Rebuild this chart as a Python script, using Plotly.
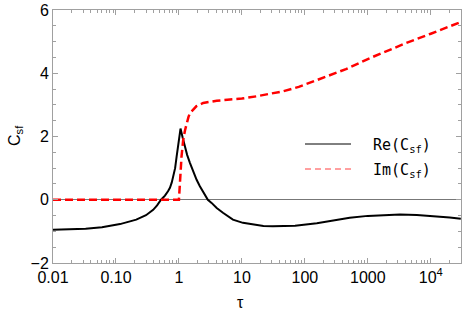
import plotly.graph_objects as go

# Real part of C_sf
tau_re = [0.01, 0.02, 0.033, 0.06, 0.116, 0.21, 0.3, 0.39, 0.45, 0.52, 0.6, 0.67, 0.72, 0.77, 0.81,
          0.87, 0.92, 0.96, 1.0, 1.03, 1.06, 1.15, 1.24, 1.35, 1.5, 1.7, 1.91, 2.15, 2.43, 2.88, 3.3,
          3.98, 5.0, 6.0, 7.2, 10.4, 15, 22, 31, 45, 70, 155, 300, 515, 1000, 2000, 3240, 6000,
          10700, 20000, 30000]
re_vals = [-0.95, -0.94, -0.92, -0.87, -0.77, -0.63, -0.49, -0.32, -0.18, 0.0, 0.13, 0.27, 0.38, 0.55, 0.74,
           1.0, 1.37, 1.65, 1.95, 2.15, 2.25, 1.95, 1.68, 1.42, 1.16, 0.88, 0.63, 0.43, 0.26, 0.0, -0.1,
           -0.26, -0.41, -0.53, -0.63, -0.73, -0.79, -0.83, -0.84, -0.84, -0.82, -0.74, -0.65, -0.57, -0.51, -0.48, -0.47, -0.48,
           -0.51, -0.56, -0.60]

# Imaginary part of C_sf
tau_im = [0.01, 0.1, 0.5, 1.0, 1.1, 1.17, 1.25, 1.32, 1.42, 1.5, 1.69, 1.9, 2.43, 3.2, 3.98, 6.5, 10,
          17, 30, 45, 80, 135, 250, 450, 1000, 2000, 4000, 10000, 30000]
im_vals = [0.0, 0.0, 0.0, 0.0, 1.37, 1.9, 2.2, 2.43, 2.62, 2.74, 2.87, 2.96, 3.06, 3.11, 3.13, 3.17, 3.2,
           3.27, 3.35, 3.43, 3.57, 3.74, 3.93, 4.13, 4.45, 4.7, 4.95, 5.25, 5.62]

x_tickvals = [0.01, 0.1, 1, 10, 100, 1000, 10000]
x_ticktext = ["0.01", "0.10", "1", "10", "100", "1000", "10<sup>4</sup>"]
y_tickvals = [-2, 0, 2, 4, 6]

legend_names = ["Re(C<sub>sf</sub>)", "Im(C<sub>sf</sub>)"]

minor_x = [m * 10 ** e for e in range(-2, 5) for m in range(2, 10)]

fig = go.Figure()
fig.add_trace(go.Scatter(x=tau_re, y=re_vals, mode="lines", showlegend=False, name=legend_names[0],
                         line=dict(color="black", width=2)))
fig.add_trace(go.Scatter(x=tau_im, y=im_vals, mode="lines", showlegend=False, name=legend_names[1],
                         line=dict(color="#ff0000", width=2.5, dash="8px,4px")))

axis_common = dict(showline=True, linecolor="#a0a0a0", linewidth=1, mirror="ticks",
                   ticks="inside", tickcolor="#a0a0a0", ticklen=5, showgrid=False, automargin=False,
                   tickfont=dict(family="Liberation Sans, Arial", size=16, color="black"))

fig.update_xaxes(type="log", range=[-2, 4.48], tickmode="array", tickvals=x_tickvals,
                 ticktext=x_ticktext, zeroline=False,
                 minor=dict(ticks="inside", ticklen=3, tickcolor="#a0a0a0", tickmode="array",
                            tickvals=minor_x, showgrid=False),
                 **axis_common)
fig.update_yaxes(range=[-2, 6], tickmode="array", tickvals=y_tickvals,
                 zeroline=True, zerolinecolor="#777777", zerolinewidth=1,
                 minor=dict(ticks="inside", ticklen=3, tickcolor="#a0a0a0", dtick=0.5, showgrid=False),
                 **axis_common)

# legend drawn in paper coordinates (plot area: x 53..461, y 10..263 px)
def px_x(p):
    return (p - 53) / 408

def px_y(p):
    return (263 - p) / 253

leg_rows = [(144, dict(color="black", width=1)),
            (169, dict(color="#ff4040", width=1, dash="6px,4px"))]
shapes = []
annotations = []
for name, (yy, ln) in zip(legend_names, leg_rows):
    shapes.append(dict(type="line", xref="paper", yref="paper", x0=px_x(305), x1=px_x(351),
                       y0=px_y(yy), y1=px_y(yy), line=ln))
    annotations.append(dict(text=name, xref="paper", yref="paper", x=px_x(371), y=px_y(yy + 1),
                            showarrow=False, xanchor="left", yanchor="middle",
                            font=dict(family="DejaVu Sans Mono", size=15, color="black")))

annotations += [
    dict(text="τ", xref="paper", yref="paper", x=px_x(240), y=px_y(302),
         showarrow=False, xanchor="center", yanchor="middle",
         font=dict(family="Liberation Sans, Arial", size=16, color="black")),
    dict(text="C<sub>sf</sub>", xref="paper", yref="paper", x=px_x(15), y=px_y(136),
         showarrow=False, xanchor="center", yanchor="middle", textangle=-90,
         font=dict(family="Liberation Sans, Arial", size=16, color="black")),
]

fig.update_layout(
    width=463, height=317,
    margin=dict(l=53, r=2, t=10, b=54),
    paper_bgcolor="white", plot_bgcolor="white",
    showlegend=False,
    shapes=shapes,
    annotations=annotations,
)

fig.write_html("out.html", config={"displayModeBar": False},
               post_script="document.body.style.margin='0px';")
